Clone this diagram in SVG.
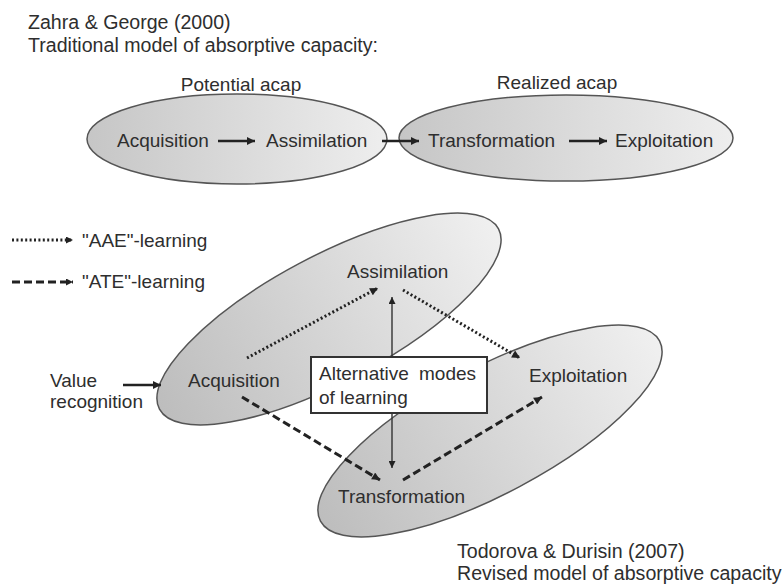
<svg xmlns="http://www.w3.org/2000/svg" width="782" height="586" viewBox="0 0 782 586">
  <defs>
    <style>
      text { font-family: "Liberation Sans", Arial, sans-serif; font-size: 19px; fill: #2e2e2e; }
      .title { font-size: 19.6px; }
      .shape { stroke: #555; stroke-width: 1.5; }
      .solid { stroke: #222; stroke-width: 2.6; fill: none; }
      .thin { stroke: #333; stroke-width: 1.4; fill: none; }
      .dot { stroke: #222; stroke-width: 3; stroke-dasharray: 2 2.4; fill: none; }
      .dash { stroke: #222; stroke-width: 3; stroke-dasharray: 8 4; fill: none; }
    </style>
    <linearGradient id="fillTop" x1="0" y1="0" x2="1" y2="0">
      <stop offset="0" stop-color="#c6c6c6"/>
      <stop offset="1" stop-color="#eeeeee"/>
    </linearGradient>
    <linearGradient id="fillTilt" x1="0" y1="0" x2="1" y2="0">
      <stop offset="0" stop-color="#bdbdbd"/>
      <stop offset="1" stop-color="#f0f0f0"/>
    </linearGradient>
    <marker id="head" viewBox="0 0 10 10" refX="10" refY="5" markerWidth="10" markerHeight="8" markerUnits="userSpaceOnUse" orient="auto">
      <path d="M0,0 L10,5 L0,10 z" fill="#222"/>
    </marker>
    <marker id="headSmall" viewBox="0 0 10 10" refX="10" refY="5" markerWidth="8" markerHeight="7" markerUnits="userSpaceOnUse" orient="auto">
      <path d="M0,0 L10,5 L0,10 z" fill="#222"/>
    </marker>
  </defs>

  <!-- Titles -->
  <text class="title" x="28" y="29">Zahra &amp; George (2000)</text>
  <text class="title" x="28" y="52">Traditional model of absorptive capacity:</text>

  <!-- Traditional model: two phases -->
  <g id="potential-acap">
    <ellipse class="shape" cx="237" cy="139" rx="150" ry="45" fill="url(#fillTop)"/>
    <text x="241" y="91" text-anchor="middle">Potential acap</text>
  </g>
  <g id="realized-acap">
    <ellipse class="shape" cx="566" cy="138" rx="167" ry="43" fill="url(#fillTop)"/>
    <text x="557" y="89" text-anchor="middle">Realized acap</text>
  </g>
  <g id="top-acquisition"><text x="117" y="147">Acquisition</text></g>
  <g id="top-assimilation"><text x="266" y="147">Assimilation</text></g>
  <g id="top-transformation"><text x="428" y="147">Transformation</text></g>
  <g id="top-exploitation"><text x="615" y="147">Exploitation</text></g>

  <g id="top-connectors">
    <line class="solid" x1="218" y1="141" x2="255" y2="141" marker-end="url(#head)"/>
    <line class="solid" x1="382" y1="141" x2="419" y2="141" marker-end="url(#head)"/>
    <line class="solid" x1="569" y1="141" x2="607" y2="141" marker-end="url(#head)"/>
  </g>

  <!-- Legend -->
  <g id="legend">
    <line class="dot" x1="12" y1="240" x2="73" y2="240" marker-end="url(#headSmall)"/>
    <text x="82" y="247">"AAE"-learning</text>
    <line class="dash" x1="12" y1="282" x2="73" y2="282" marker-end="url(#headSmall)"/>
    <text x="82" y="288">"ATE"-learning</text>
  </g>

  <!-- Revised model: tilted phases -->
  <g id="phase-upper">
    <ellipse class="shape" cx="0" cy="0" rx="192" ry="63" transform="translate(329 319) rotate(-28)" fill="url(#fillTilt)"/>
  </g>
  <g id="phase-lower">
    <ellipse class="shape" cx="0" cy="0" rx="192" ry="63" transform="translate(490 431) rotate(-28)" fill="url(#fillTilt)"/>
  </g>

  <g id="value-recognition">
    <text x="50" y="387">Value</text>
    <text x="50" y="408">recognition</text>
  </g>
  <g id="acquisition"><text x="188" y="387">Acquisition</text></g>
  <g id="assimilation"><text x="347" y="278">Assimilation</text></g>
  <g id="exploitation"><text x="529" y="382">Exploitation</text></g>
  <g id="transformation"><text x="338" y="503">Transformation</text></g>

  <g id="connectors">
    <line class="solid" x1="123" y1="385" x2="161" y2="385" marker-end="url(#head)"/>
    <line class="dot" x1="247" y1="358" x2="378" y2="288" marker-end="url(#head)"/>
    <line class="dot" x1="403" y1="290" x2="520" y2="358" marker-end="url(#head)"/>
    <line class="dash" x1="242" y1="397" x2="380" y2="480" marker-end="url(#head)"/>
    <line class="dash" x1="403" y1="480" x2="542" y2="397" marker-end="url(#head)"/>
    <line class="thin" x1="392" y1="357" x2="392" y2="297" marker-end="url(#headSmall)"/>
    <line class="thin" x1="392" y1="413" x2="392" y2="468" marker-end="url(#headSmall)"/>
  </g>

  <g id="alternative-modes">
    <rect x="311" y="357" width="176" height="56" fill="#fff" stroke="#333" stroke-width="2"/>
    <text x="319" y="380" word-spacing="5">Alternative modes</text>
    <text x="319" y="404">of learning</text>
  </g>

  <text class="title" x="457" y="558">Todorova &amp; Durisin (2007)</text>
  <text class="title" x="457" y="580">Revised model of absorptive capacity</text>
</svg>
